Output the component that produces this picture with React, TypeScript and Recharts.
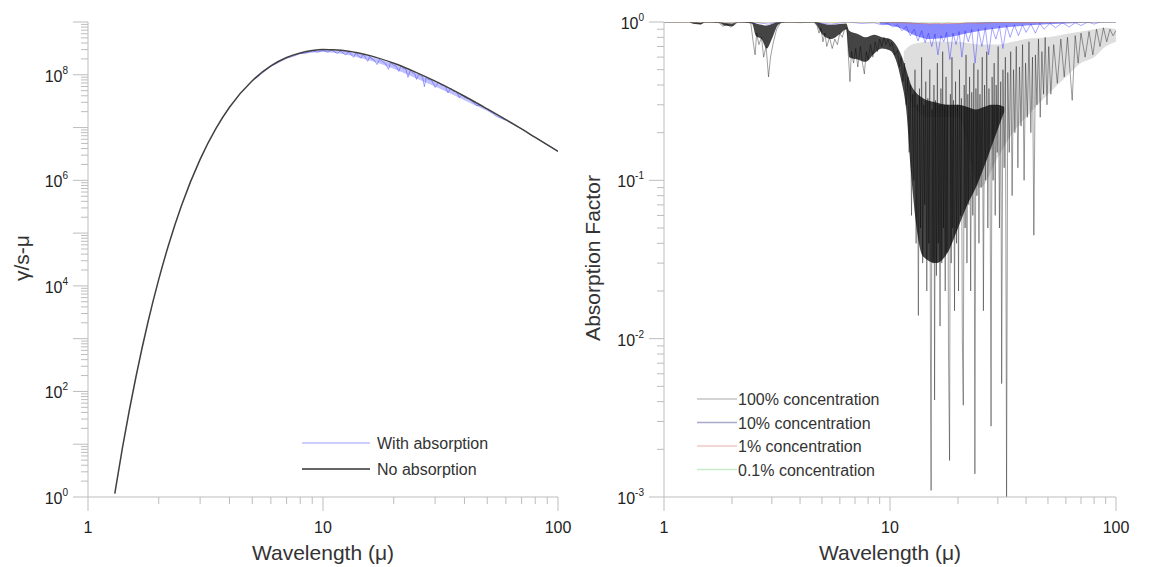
import React from 'react';
import { ComposedChart, Line, Area, XAxis, YAxis } from 'recharts';

const FONT = '"Liberation Sans", Arial, sans-serif';
const AXIS = '#bdbdbd';
const INK = '#222';

// x axis (wavelength, log)
const xDecades = [1, 10];
const minorSteps = [1, 2, 3, 4, 5, 6, 7, 8, 9];
const xTicks = [...xDecades.flatMap((d) => minorSteps.map((m) => d * m)), 100];

// left panel y axis
const emitDecades = [1, 1e1, 1e2, 1e3, 1e4, 1e5, 1e6, 1e7, 1e8];
const emitTicks = [...emitDecades.flatMap((d) => minorSteps.map((m) => d * m)), 1e9];
const emitLabelled = [0, 2, 4, 6, 8];

// right panel y axis
const absDecades = [0.001, 0.01, 0.1];
const absTicks = [...absDecades.flatMap((d) => minorSteps.map((m) => d * m)), 1];
const absLabelled = [0, -1, -2, -3];

// left panel: no absorption (wavelength, photons)
const noAbsorption: [number, number][] = [
  [1.3, 1.16], [1.4, 8.3], [1.5, 44.5], [1.6, 190], [1.8, 2070], [2, 13300], [2.2, 58700],
  [2.5, 3.33e5], [3, 2.49e6], [3.5, 9.5e6], [4, 2.42e7], [5, 7.7e7], [6, 1.47e8], [7, 2.12e8],
  [8, 2.59e8], [9, 2.88e8], [10, 3.0e8], [11, 2.99e8], [12, 2.92e8], [14, 2.62e8], [16, 2.28e8],
  [20, 1.65e8], [25, 1.1e8], [30, 7.57e7], [40, 3.92e7], [50, 2.25e7], [60, 1.41e7], [70, 9.4e6],
  [80, 6.5e6], [100, 3.54e6],
];

// left panel: with absorption
const withAbsorption: [number, number][] = [
  [5, 7.6e7], [6, 1.44e8], [7, 2.06e8], [7.5, 2.25e8], [8, 2.52e8], [8.5, 2.6e8], [9, 2.81e8],
  [9.5, 2.69e8], [10, 2.93e8], [10.3, 2.75e8], [10.5, 2.68e8], [10.8, 2.9e8], [11, 2.86e8],
  [11.5, 2.52e8], [11.8, 2.8e8], [12, 2.72e8], [12.5, 2.37e8], [12.8, 2.7e8], [13, 2.59e8],
  [13.5, 2.14e8], [13.8, 2.55e8], [14, 2.39e8], [14.5, 2.06e8], [14.8, 2.4e8], [15, 2.29e8],
  [15.5, 1.79e8], [15.8, 2.25e8], [16, 2.07e8], [16.5, 1.9e8], [17, 1.56e8], [17.4, 1.98e8],
  [18, 1.77e8], [18.5, 1.6e8], [19, 1.27e8], [19.4, 1.72e8], [20, 1.51e8], [20.5, 1.45e8],
  [21, 1.16e8], [21.5, 1.5e8], [22, 1.31e8], [22.5, 1.3e8], [23, 8.97e7], [23.5, 1.22e8],
  [24, 1.09e8], [24.5, 1.08e8], [25, 8.17e7], [25.5, 1.03e8], [26, 9.53e7], [26.5, 9.3e7],
  [27, 5.97e7], [27.5, 9.0e7], [28, 8.18e7], [29, 7.9e7], [30, 5.74e7], [31, 7.3e7], [32, 6.25e7],
  [33, 6.3e7], [34, 4.53e7], [35, 5.6e7], [36, 4.8e7], [37, 4.8e7], [38, 3.68e7], [39, 4.2e7],
  [40, 3.74e7], [42, 3.5e7], [45, 2.62e7], [47, 2.65e7], [50, 2.2e7], [55, 1.61e7], [60, 1.38e7],
  [70, 9.4e6], [80, 6.5e6], [100, 3.54e6],
];
const withAbsorptionBand: [number, number, number][] = [
  [8, 2.45e8, 2.56e8], [10, 2.7e8, 2.95e8], [12, 2.5e8, 2.85e8], [14, 2.15e8, 2.55e8],
  [16, 1.85e8, 2.2e8], [20, 1.3e8, 1.58e8], [25, 8.5e7, 1.05e8], [30, 6.0e7, 7.3e7],
  [40, 3.3e7, 3.8e7], [50, 2.05e7, 2.2e7], [60, 1.35e7, 1.4e7],
];

// right panel: 100% concentration
const conc100: [number, number][] = [
  [1, 1], [1.3, 1], [1.36, 0.975], [1.4, 0.99], [1.45, 0.97], [1.52, 1], [1.75, 0.99], [1.82, 0.94],
  [1.9, 0.97], [1.97, 0.93], [2.05, 0.96], [2.12, 1], [2.42, 0.99], [2.48, 0.75], [2.53, 0.62],
  [2.57, 0.85], [2.63, 0.72], [2.7, 0.8], [2.76, 0.6], [2.83, 0.7], [2.9, 0.45], [2.96, 0.6],
  [3.05, 0.75], [3.15, 0.9], [3.28, 0.99], [3.6, 1], [4, 0.99], [4.6, 1], [4.75, 0.95], [4.85, 0.85],
  [4.95, 0.92], [5.05, 0.75], [5.15, 0.85], [5.25, 0.7], [5.4, 0.8], [5.55, 0.68], [5.7, 0.78],
  [5.85, 0.72], [6, 0.85], [6.15, 0.8], [6.3, 0.9], [6.45, 0.92], [6.55, 0.6], [6.65, 0.42],
  [6.75, 0.65], [6.9, 0.55], [7.05, 0.68], [7.2, 0.52], [7.4, 0.7], [7.55, 0.55], [7.7, 0.47],
  [7.85, 0.65], [8, 0.58], [8.2, 0.72], [8.4, 0.6], [8.6, 0.75], [8.8, 0.65], [9, 0.78], [9.2, 0.7],
  [9.4, 0.8], [9.6, 0.72], [9.8, 0.78], [10, 0.7], [10.2, 0.74], [10.5, 0.62], [10.8, 0.66],
  [11, 0.52], [11.2, 0.6], [11.4, 0.42], [11.6, 0.55], [11.8, 0.3], [12, 0.45], [12.15, 0.15],
  [12.3, 0.4], [12.45, 0.06], [12.6, 0.35], [12.75, 0.1], [12.9, 0.5], [13.05, 0.04], [13.2, 0.3],
  [13.35, 0.014], [13.5, 0.38], [13.65, 0.05], [13.8, 0.6], [13.95, 0.03], [14.1, 0.3], [14.25, 0.07],
  [14.4, 0.42], [14.55, 0.02], [14.7, 0.33], [14.85, 0.04], [15, 0.5], [15.1, 0.008], [15.2, 0.0011],
  [15.35, 0.28], [15.5, 0.03], [15.65, 0.4], [15.75, 0.0041], [15.9, 0.32], [16.05, 0.025],
  [16.2, 0.55], [16.35, 0.04], [16.5, 0.3], [16.65, 0.012], [16.8, 0.38], [16.95, 0.03], [17.1, 0.65],
  [17.25, 0.05], [17.4, 0.3], [17.55, 0.02], [17.7, 0.45], [17.85, 0.035], [18, 0.3], [18.15, 0.008],
  [18.35, 0.0017], [18.5, 0.35], [18.65, 0.03], [18.8, 0.6], [18.95, 0.05], [19.1, 0.32],
  [19.3, 0.015], [19.5, 0.42], [19.7, 0.04], [19.9, 0.3], [20.1, 0.02], [20.3, 0.5], [20.5, 0.06],
  [20.7, 0.33], [20.9, 0.01], [21.1, 0.0038], [21.3, 0.4], [21.5, 0.05], [21.7, 0.62], [21.9, 0.03],
  [22.1, 0.35], [22.3, 0.07], [22.5, 0.45], [22.75, 0.02], [23, 0.36], [23.25, 0.06], [23.5, 0.55],
  [23.75, 0.0014], [24, 0.38], [24.25, 0.08], [24.5, 0.5], [24.75, 0.04], [25, 0.35], [25.3, 0.09],
  [25.6, 0.6], [25.9, 0.015], [26.2, 0.4], [26.5, 0.1], [26.8, 0.65], [27.1, 0.05], [27.4, 0.38],
  [27.7, 0.12], [28, 0.0028], [28.3, 0.45], [28.6, 0.1], [28.9, 0.55], [29.2, 0.06], [29.5, 0.4],
  [29.8, 0.15], [30.1, 0.7], [30.5, 0.05], [30.9, 0.42], [31.2, 0.0052], [31.6, 0.5], [32, 0.12],
  [32.4, 0.6], [32.8, 0.001], [33.2, 0.48], [33.7, 0.15], [34.2, 0.65], [34.7, 0.08], [35.2, 0.5],
  [35.7, 0.2], [36.2, 0.7], [36.8, 0.12], [37.4, 0.52], [38, 0.22], [38.6, 0.72], [39.2, 0.1],
  [39.8, 0.55], [40.5, 0.25], [41.2, 0.75], [42, 0.2], [42.7, 0.6], [43.3, 0.045], [44, 0.62],
  [44.7, 0.3], [45.4, 0.78], [46.2, 0.25], [47, 0.65], [47.8, 0.35], [48.6, 0.8], [49.5, 0.3],
  [50.4, 0.7], [51.5, 0.35], [53, 0.72], [55, 0.41], [57, 0.78], [59, 0.45], [61, 0.8], [64, 0.32],
  [66, 0.82], [68, 0.55], [70, 0.85], [73, 0.6], [76, 0.87], [79, 0.62], [82, 0.9], [85, 0.7],
  [88, 0.92], [91, 0.75], [94, 0.9], [97, 0.82], [100, 0.88],
];

// dense parts of the 100% trace (wavelength, low, high)
const conc100Core: [number, number, number][] = [
  [1.3, 0.998, 1], [1.36, 0.975, 0.995], [1.45, 0.965, 0.99], [1.52, 0.995, 1], [1.75, 0.99, 1],
  [1.85, 0.95, 0.985], [2.0, 0.94, 0.98], [2.12, 0.995, 1], [2.45, 0.98, 1], [2.55, 0.82, 0.98],
  [2.7, 0.78, 0.96], [2.85, 0.68, 0.95], [3, 0.78, 0.97], [3.2, 0.96, 1], [3.4, 0.995, 1],
  [4.6, 0.995, 1], [4.7, 0.97, 1], [5, 0.84, 0.98], [5.5, 0.78, 0.96], [6, 0.84, 0.97],
  [6.4, 0.9, 0.98], [6.6, 0.6, 0.88], [7.2, 0.58, 0.84], [7.8, 0.56, 0.8], [8.5, 0.63, 0.83],
  [9.2, 0.68, 0.8], [10, 0.66, 0.78], [10.6, 0.58, 0.72], [11.2, 0.43, 0.62], [11.8, 0.28, 0.5],
  [12.4, 0.11, 0.4], [13, 0.055, 0.36], [14, 0.033, 0.33], [16, 0.03, 0.31], [18, 0.035, 0.3],
  [20, 0.05, 0.3], [22, 0.07, 0.29], [24, 0.09, 0.28], [26, 0.12, 0.29], [28, 0.16, 0.3],
  [30, 0.21, 0.3], [32, 0.27, 0.29],
];
const conc100Haze: [number, number, number][] = [
  [11.5, 0.5, 0.65], [12.5, 0.3, 0.72], [15, 0.25, 0.75], [20, 0.25, 0.75], [25, 0.09, 0.72],
  [30, 0.14, 0.72], [35, 0.2, 0.75], [40, 0.25, 0.78], [50, 0.35, 0.8], [60, 0.45, 0.84],
  [70, 0.55, 0.87], [80, 0.6, 0.9], [90, 0.7, 0.92], [100, 0.75, 0.9],
];

// right panel: 10% concentration
const conc10: [number, number][] = [
  [1, 1], [2.4, 1], [2.5, 0.98], [2.6, 0.99], [2.9, 0.97], [3.2, 1], [4.7, 1], [5, 0.98], [5.5, 0.97],
  [6, 0.985], [6.5, 1], [7.5, 0.98], [8.5, 0.99], [9.2, 0.96], [9.8, 0.98], [10.3, 0.93], [10.8, 0.96],
  [11.3, 0.88], [11.8, 0.94], [12.3, 0.82], [12.8, 0.9], [13.3, 0.76], [13.8, 0.88], [14.3, 0.74],
  [14.8, 0.85], [15.3, 0.7], [15.8, 0.84], [16.3, 0.62], [16.8, 0.82], [17.3, 0.75], [17.8, 0.86],
  [18.4, 0.58], [19, 0.85], [19.6, 0.72], [20.2, 0.87], [20.8, 0.6], [21.5, 0.88], [22.2, 0.75],
  [23, 0.9], [23.8, 0.55], [24.6, 0.9], [25.5, 0.7], [26.4, 0.92], [27.3, 0.62], [28.3, 0.92],
  [29.4, 0.78], [30.5, 0.94], [31.6, 0.68], [32.8, 0.95], [34, 0.8], [35.5, 0.96], [37, 0.82],
  [38.6, 0.96], [40, 0.86], [42, 0.97], [44, 0.85], [46, 0.98], [48, 0.9], [51, 0.98], [54, 0.92],
  [58, 0.99], [62, 0.93], [66, 0.99], [70, 0.95], [75, 1], [80, 0.97], [85, 1], [100, 1],
];
const conc10Core: [number, number, number][] = [
  [9, 0.97, 1], [11, 0.92, 1], [13, 0.82, 0.99], [15, 0.78, 0.98], [18, 0.8, 0.98], [22, 0.85, 0.99],
  [28, 0.9, 1], [40, 0.95, 1], [60, 0.98, 1], [100, 0.995, 1],
];

// right panel: 1% and 0.1% concentration
const conc1: [number, number][] = [
  [1, 1], [9, 1], [11, 0.99], [12, 0.985], [13, 0.975], [14, 0.985], [15, 0.97], [16, 0.985],
  [17, 0.97], [18, 0.985], [20, 0.975], [22, 0.99], [25, 0.98], [30, 0.995], [40, 0.99], [60, 1], [100, 1],
];
const conc01: [number, number][] = [
  [1, 1], [12, 0.998], [15, 0.997], [20, 0.998], [30, 0.999], [100, 1],
];

const pts = (arr: [number, number][]) => arr.map(([wl, v]) => ({ wl, v }));
const band = (arr: [number, number, number][]) => arr.map(([wl, lo, hi]) => ({ wl, r: [lo, hi] }));

const isDecade = (v: number) => {
  const lg = Math.log10(v);
  return Math.abs(lg - Math.round(lg)) < 1e-9;
};

const XTick = ({ x, y, payload }: any) => {
  const v = payload.value;
  const major = isDecade(v);
  return (
    <g>
      <line x1={x} x2={x} y1={y} y2={y + (major ? 14 : 7)} stroke={AXIS} strokeWidth={1} />
      {major && (
        <text x={x} y={y + 36} textAnchor="middle" fontSize={16} fill={INK} fontFamily={FONT}>
          {v}
        </text>
      )}
    </g>
  );
};

const makeYTick = (labelled: number[]) => ({ x, y, payload }: any) => {
  const v = payload.value;
  const major = isDecade(v);
  const e = Math.round(Math.log10(v));
  return (
    <g>
      <line x1={x - (major ? 15 : 7)} x2={x} y1={y} y2={y} stroke={AXIS} strokeWidth={1} />
      {major && labelled.includes(e) && (
        <text x={x - 20} y={y + 7} textAnchor="end" fontSize={16} fill={INK} fontFamily={FONT}>
          10<tspan dy={-8} fontSize={10}>{e}</tspan>
        </text>
      )}
    </g>
  );
};

const EmitTick = makeYTick(emitLabelled);
const AbsTick = makeYTick(absLabelled);

const xAxisProps = {
  dataKey: 'wl',
  type: 'number' as const,
  scale: 'log' as const,
  domain: [1, 100],
  ticks: xTicks,
  interval: 0,
  tickSize: 0,
  tickMargin: 0,
  allowDataOverflow: true,
  height: 70,
  axisLine: { stroke: AXIS },
  tickLine: false,
  tick: (p: any) => <XTick {...p} />,
};

function LeftPanel() {
  return (
    <ComposedChart width={578} height={567} margin={{ top: 22, right: 20, bottom: 0, left: 28 }}>
      <XAxis {...xAxisProps} />
      <YAxis
        type="number"
        scale="log"
        domain={[1, 1e9]}
        ticks={emitTicks}
        interval={0}
        tickSize={0}
        tickMargin={0}
        allowDataOverflow
        width={60}
        axisLine={{ stroke: AXIS }}
        tickLine={false}
        tick={(p: any) => <EmitTick {...p} />}
      />
      <Area
        data={band(withAbsorptionBand)}
        dataKey="r"
        type="monotone"
        stroke="none"
        fill="#4a4aff"
        fillOpacity={0.35}
        isAnimationActive={false}
      />
      <Line
        data={pts(withAbsorption)}
        dataKey="v"
        type="linear"
        stroke="#3a3aff"
        strokeWidth={0.8}
        strokeOpacity={0.6}
        dot={false}
        isAnimationActive={false}
      />
      <Line
        data={pts(noAbsorption)}
        dataKey="v"
        type="monotone"
        stroke="#404040"
        strokeWidth={1.5}
        dot={false}
        isAnimationActive={false}
      />
    </ComposedChart>
  );
}

function RightPanel() {
  return (
    <ComposedChart width={578} height={567} margin={{ top: 22, right: 40, bottom: 0, left: 26 }}>
      <XAxis {...xAxisProps} />
      <YAxis
        type="number"
        scale="log"
        domain={[0.001, 1]}
        ticks={absTicks}
        interval={0}
        tickSize={0}
        tickMargin={0}
        allowDataOverflow
        width={60}
        axisLine={{ stroke: AXIS }}
        tickLine={false}
        tick={(p: any) => <AbsTick {...p} />}
      />
      <Area
        data={band(conc100Haze)}
        dataKey="r"
        type="monotone"
        stroke="none"
        fill="#8a8a8a"
        fillOpacity={0.28}
        isAnimationActive={false}
      />
      <Area
        data={band(conc100Core)}
        dataKey="r"
        type="monotone"
        stroke="none"
        fill="#101010"
        fillOpacity={0.78}
        isAnimationActive={false}
      />
      <Line
        data={pts(conc100)}
        dataKey="v"
        type="linear"
        stroke="#000"
        strokeWidth={0.7}
        strokeOpacity={0.55}
        dot={false}
        isAnimationActive={false}
      />
      <Area
        data={band(conc10Core)}
        dataKey="r"
        type="monotone"
        stroke="none"
        fill="#2a2aff"
        fillOpacity={0.55}
        isAnimationActive={false}
      />
      <Line
        data={pts(conc10)}
        dataKey="v"
        type="linear"
        stroke="#1a1aff"
        strokeWidth={0.7}
        strokeOpacity={0.55}
        dot={false}
        isAnimationActive={false}
      />
      <Line
        data={pts(conc1)}
        dataKey="v"
        type="linear"
        stroke="#ff5a2a"
        strokeWidth={0.8}
        strokeOpacity={0.6}
        dot={false}
        isAnimationActive={false}
      />
      <Line
        data={pts(conc01)}
        dataKey="v"
        type="linear"
        stroke="#2ecc40"
        strokeWidth={0.8}
        strokeOpacity={0.4}
        dot={false}
        isAnimationActive={false}
      />
    </ComposedChart>
  );
}

const leftLegend = [
  { label: 'With absorption', color: '#9a9aff' },
  { label: 'No absorption', color: '#333' },
];
const rightLegend = [
  { label: '100% concentration', color: '#c4c4c4' },
  { label: '10% concentration', color: '#a8a8c8' },
  { label: '1% concentration', color: '#f2c8c8' },
  { label: '0.1% concentration', color: '#c8ecc8' },
];

export default function App() {
  return (
    <div style={{ position: 'absolute', left: 0, top: 0, width: 1156, height: 567, background: '#fff', fontFamily: FONT }}>
      <div style={{ position: 'absolute', left: 0, top: 0 }}>
        <LeftPanel />
      </div>
      <div style={{ position: 'absolute', left: 578, top: 0 }}>
        <RightPanel />
      </div>
      <svg width={1156} height={567} style={{ position: 'absolute', left: 0, top: 0, pointerEvents: 'none' }}>
        <g fontFamily={FONT} fill="#333">
          <text x={323} y={560} textAnchor="middle" fontSize={21}>Wavelength (μ)</text>
          <text x={890} y={560} textAnchor="middle" fontSize={21}>Wavelength (μ)</text>
          <text transform="translate(29,258) rotate(-90)" textAnchor="middle" fontSize={21}>γ/s-μ</text>
          <text transform="translate(600,258) rotate(-90)" textAnchor="middle" fontSize={21}>Absorption Factor</text>
          {leftLegend.map((it, i) => (
            <g key={it.label}>
              <line x1={302} x2={370} y1={443 + i * 26} y2={443 + i * 26} stroke={it.color} strokeWidth={i === 0 ? 1 : 1.5} />
              <text x={377} y={449 + i * 26} fontSize={16}>{it.label}</text>
            </g>
          ))}
          {rightLegend.map((it, i) => (
            <g key={it.label}>
              <line x1={697} x2={737} y1={399 + i * 23.5} y2={399 + i * 23.5} stroke={it.color} strokeWidth={1.5} />
              <text x={738} y={405 + i * 23.5} fontSize={16}>{it.label}</text>
            </g>
          ))}
        </g>
      </svg>
    </div>
  );
}
